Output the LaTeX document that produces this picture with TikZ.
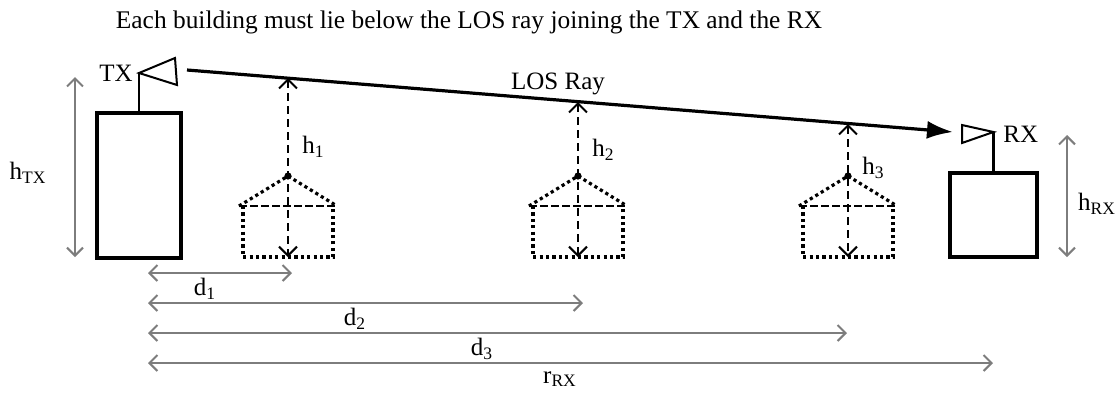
\documentclass[tikz,border=0pt]{standalone}
\usepackage{fontspec}
\setmainfont{Liberation Serif}
\usepackage{xcolor}
\usepackage{tikz}
\usetikzlibrary{arrows.meta, positioning}
\definecolor{dimgray}{RGB}{125,125,125}

\begin{document}
\begin{tikzpicture}[
    x=0.5pt, y=-0.5pt,
    building/.style={rectangle, draw, line width=1.6pt, inner sep=0pt},
    mast/.style={line width=1.3pt},
    antenna/.style={line width=1pt, line join=miter},
    losray/.style={line width=1.6pt, -{Latex[length=13pt,width=9pt]}},
    wall/.style={line width=1.6pt, dash pattern=on 1.6pt off 1.6pt},
    eave/.style={line width=1.3pt, dash pattern=on 4pt off 1.5pt},
    heightarrow/.style={{Straight Barb[length=4.5pt,width=9pt]}-{Straight Barb[length=4.5pt,width=9pt]}, dash pattern=on 4pt off 2.5pt, line width=1pt},
    dimarrow/.style={{Straight Barb[length=4pt,width=8pt]}-{Straight Barb[length=4pt,width=8pt]}, line width=1pt, dimgray},
    lbl/.style={inner sep=0pt, font=\fontsize{12.5}{14}\selectfont}
]
\useasboundingbox (0,0) rectangle (1116,392);

% Title
\node[lbl, font=\fontsize{12.7}{15}\selectfont] (title) at (469,22) {Each building must lie below the LOS ray joining the TX and the RX};

% Transmitter
\node[building, minimum width=42pt, minimum height=72.5pt] (txb) at (139,185.5) {};
\coordinate (txant) at (139,73);
\draw[mast] (txb.north) -- (txant);
\draw[antenna] (txant) -- (175,58) -- (177,85) -- cycle;
\node[lbl, anchor=east] (txlbl) at (133,73) {TX};

% Receiver
\node[building, minimum width=43.5pt, minimum height=42pt] (rxb) at (993.5,215) {};
\coordinate (rxant) at (993.5,132);
\draw[mast] (rxb.north) -- (rxant);
\draw[antenna] (rxant) -- (962,125) -- (962,143) -- cycle;
\node[lbl, anchor=west] (rxlbl) at (1003,134) {RX};

% LOS ray
\coordinate (losA) at (187,70);
\coordinate (losB) at (953,132);
\draw[losray] (losA) -- (losB);
\node[lbl] (loslbl) at (558,84) {LOS Ray};

% Buildings below the ray
\foreach \cx/\ytop/\ly/\n in {288/78/147/1, 578/102/150/2, 848/124/168/3} {
    \draw[wall] (\cx-49,206) -- (\cx,176) -- (\cx+49,206);
    \draw[wall] (\cx-45,206) -- (\cx-45,257) -- (\cx+45,257) -- (\cx+45,206);
    \draw[eave] (\cx-49,206) -- (\cx+49,206);
    \fill (\cx,176) circle (1.8pt);
    \coordinate (top\n) at (\cx,\ytop);
    \coordinate (base\n) at (\cx,257);
    \draw[heightarrow] (top\n) -- (base\n);
    \node[lbl, anchor=west] (h\n) at (\cx+14,\ly) {h\textsubscript{\n}};
}

% Heights
\coordinate (htxtop) at (75,77);
\coordinate (htxbot) at (75,257);
\draw[dimarrow] (htxtop) -- (htxbot);
\node[lbl] (htx) at (28,173) {h\textsubscript{TX}};
\coordinate (hrxtop) at (1067,135);
\coordinate (hrxbot) at (1067,257);
\draw[dimarrow] (hrxtop) -- (hrxbot);
\node[lbl] (hrx) at (1097,204) {h\textsubscript{RX}};

% Distances
\foreach \y/\xe/\lx/\txt/\n in {273/292/205/d\textsubscript{1}/1, 303/583/355/d\textsubscript{2}/2, 333/847/482/d\textsubscript{3}/3, 363/993/560/r\textsubscript{RX}/4} {
    \coordinate (ds\n) at (148,\y);
    \coordinate (de\n) at (\xe,\y);
    \draw[dimarrow] (ds\n) -- (de\n);
    \node[lbl] (dl\n) at (\lx,\y+16) {\txt};
}
\end{tikzpicture}
\end{document}
